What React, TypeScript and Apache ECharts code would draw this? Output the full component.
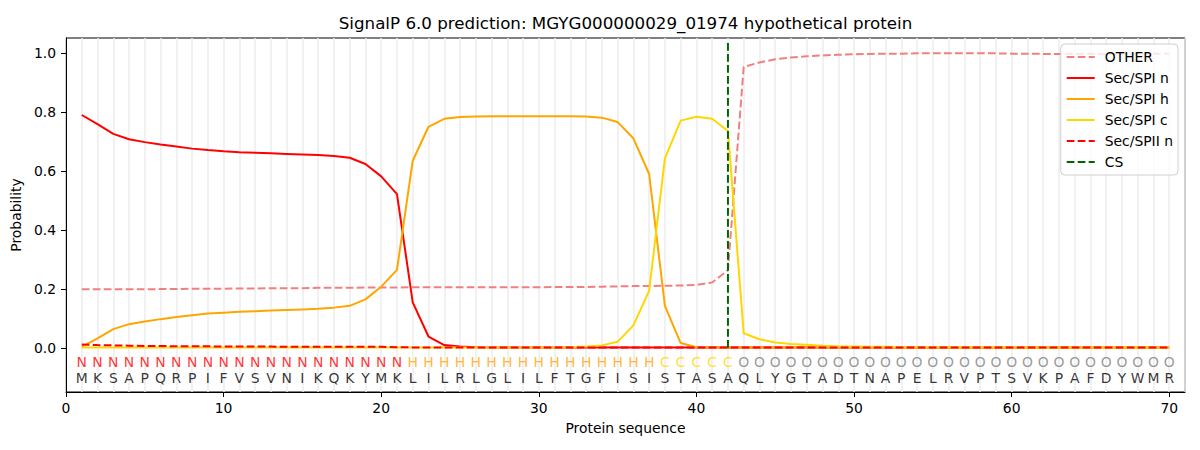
import React, { useEffect, useRef } from "react";
import * as echarts from "echarts";

const sequence = "MKSAPQRPIFVSVNIKQKYMKLILRLGLILFTGFISISTASAQLYGTADTNAPELRVPTSVKPAFDYWMR".split("");
const regionLabels = (
  "N".repeat(21) + "H".repeat(16) + "C".repeat(5) + "O".repeat(28)
).split("");

const other = [
  0.198, 0.198, 0.198, 0.198, 0.198, 0.199, 0.199, 0.2, 0.2, 0.2,
  0.201, 0.201, 0.202, 0.202, 0.202, 0.203, 0.203, 0.203, 0.204, 0.204,
  0.204, 0.205, 0.205, 0.205, 0.205, 0.205, 0.205, 0.205, 0.205, 0.205,
  0.206, 0.206, 0.206, 0.207, 0.208, 0.209, 0.209, 0.21, 0.211, 0.213,
  0.221, 0.263, 0.952, 0.967, 0.978, 0.984, 0.988, 0.991, 0.993, 0.995,
  0.996, 0.997, 0.997, 0.998, 0.998, 0.998, 0.998, 0.998, 0.998, 0.997,
  0.997, 0.996, 0.996, 0.996, 0.996, 0.996, 0.996, 0.997, 0.997, 0.997,
];
const secSpiN = [
  0.789, 0.758, 0.725, 0.707, 0.697, 0.689, 0.682, 0.675, 0.67, 0.666,
  0.663, 0.661, 0.659, 0.657, 0.655, 0.653, 0.65, 0.644, 0.623, 0.581,
  0.521, 0.154, 0.038, 0.009, 0.004, 0.002, 0.001, 0.001, 0.001, 0.001,
  0.001, 0.001, 0.001, 0.001, 0.001, 0.001, 0.001, 0.001, 0.001, 0.001,
  0.001, 0.001, 0.001, 0.001, 0.001, 0.001, 0.001, 0.001, 0.001, 0.001,
  0.001, 0.001, 0.001, 0.001, 0.001, 0.001, 0.001, 0.001, 0.001, 0.001,
  0.001, 0.001, 0.001, 0.001, 0.001, 0.001, 0.001, 0.001, 0.001, 0.001,
];
const secSpiH = [
  0.003, 0.032, 0.063, 0.08, 0.089, 0.097, 0.104, 0.11, 0.116, 0.119,
  0.122, 0.124, 0.126, 0.128, 0.13, 0.132, 0.136, 0.142, 0.164, 0.207,
  0.264, 0.634, 0.749, 0.776, 0.782, 0.784, 0.785, 0.785, 0.785, 0.785,
  0.785, 0.785, 0.784, 0.78, 0.765, 0.71, 0.589, 0.142, 0.016, 0.002,
  0.001, 0.001, 0.001, 0.001, 0.001, 0.001, 0.001, 0.001, 0.001, 0.001,
  0.001, 0.001, 0.001, 0.001, 0.001, 0.001, 0.001, 0.001, 0.001, 0.001,
  0.001, 0.001, 0.001, 0.001, 0.001, 0.001, 0.001, 0.001, 0.001, 0.001,
];
const secSpiC = [
  0.001, 0.001, 0.001, 0.001, 0.001, 0.001, 0.001, 0.001, 0.001, 0.001,
  0.001, 0.001, 0.001, 0.001, 0.001, 0.001, 0.001, 0.001, 0.001, 0.001,
  0.001, 0.001, 0.001, 0.001, 0.001, 0.001, 0.001, 0.001, 0.001, 0.001,
  0.001, 0.002, 0.004, 0.008, 0.02, 0.076, 0.193, 0.642, 0.77, 0.783,
  0.776, 0.735, 0.049, 0.029, 0.018, 0.013, 0.01, 0.007, 0.005, 0.004,
  0.003, 0.003, 0.002, 0.002, 0.002, 0.002, 0.002, 0.002, 0.002, 0.002,
  0.001, 0.001, 0.001, 0.001, 0.001, 0.001, 0.001, 0.001, 0.001, 0.001,
];
const secSpiiN = [
  0.011, 0.009, 0.008, 0.007, 0.006, 0.006, 0.005, 0.005, 0.005, 0.004,
  0.004, 0.004, 0.004, 0.003, 0.003, 0.003, 0.003, 0.003, 0.003, 0.003,
  0.002, 0.001, 0.001, 0.001, 0.001, 0.001, 0.001, 0.001, 0.001, 0.001,
  0.001, 0.001, 0.001, 0.001, 0.001, 0.001, 0.001, 0.001, 0.001, 0.001,
  0.001, 0.001, 0.001, 0.001, 0.001, 0.001, 0.001, 0.001, 0.001, 0.001,
  0.001, 0.001, 0.001, 0.001, 0.001, 0.001, 0.001, 0.001, 0.001, 0.001,
  0.001, 0.001, 0.001, 0.001, 0.001, 0.001, 0.001, 0.001, 0.001, 0.001,
];
const csPosition = 42;
const csSpan = [0, 1.04];
const xTicks = [0, 10, 20, 30, 40, 50, 60, 70];
const yTicks = [0, 0.2, 0.4, 0.6, 0.8, 1.0];
const regionRowY = -0.047;
const sequenceRowY = -0.102;

const labelColors: Record<string, string> = {
  N: "#ff0000",
  H: "#ffa500",
  C: "#ffd700",
  O: "#808080",
};

const FONT = "DejaVu Sans";
const dash = [7.7, 3.3];

export default function App() {
  const ref = useRef<HTMLDivElement>(null);
  useEffect(() => {
    if (!ref.current) return;
    const chart = echarts.init(ref.current, null, { renderer: "svg" });
    const toXY = (arr: number[]) => arr.map((v, i) => [i + 1, v]);
    const lineSeries = (name: string, data: number[], color: string, dashed: boolean) => ({
      name,
      type: "line",
      data: toXY(data),
      symbol: "none",
      xAxisIndex: 0,
      yAxisIndex: 0,
      lineStyle: { color, width: 2, type: dashed ? dash : "solid" },
      itemStyle: { color },
      z: 3,
    });
    const textSeries = (letters: string[], y: number, colorFn: (l: string) => string) => ({
      type: "scatter",
      xAxisIndex: 0,
      yAxisIndex: 0,
      symbolSize: 1,
      silent: true,
      itemStyle: { color: "rgba(0,0,0,0)" },
      z: 4,
      data: letters.map((l, i) => ({
        value: [i + 1, y],
        label: {
          show: true,
          position: "inside",
          formatter: l,
          color: colorFn(l),
          fontSize: 13.9,
          fontFamily: FONT,
        },
      })),
    });
    chart.setOption({
      animation: false,
      textStyle: { fontFamily: FONT },
      graphic: [
        {
          type: "text",
          x: 625.5,
          y: 23,
          style: {
            text: "SignalP 6.0 prediction: MGYG000000029_01974 hypothetical protein",
            font: `16.7px '${FONT}'`,
            fill: "#000",
            textAlign: "center",
            textVerticalAlign: "middle",
          },
        },
      ],
      grid: {
        left: 66,
        right: 15,
        top: 38,
        bottom: 58,
        show: true,
        borderColor: "#000",
        borderWidth: 1,
        backgroundColor: "transparent",
      },
      legend: {
        orient: "vertical",
        right: 22,
        top: 44,
        data: ["OTHER", "Sec/SPI n", "Sec/SPI h", "Sec/SPI c", "Sec/SPII n", "CS"],
        itemWidth: 28,
        itemHeight: 14,
        itemGap: 7,
        padding: [6, 5, 6, 5],
        borderColor: "#d0d0d0",
        borderWidth: 1,
        borderRadius: 4,
        backgroundColor: "rgba(255,255,255,0.8)",
        itemStyle: { opacity: 0 },
        textStyle: { fontSize: 13.9, color: "#000", fontFamily: FONT, padding: [0, 0, 0, 5] },
      },
      xAxis: [
        {
          type: "value",
          min: 0,
          max: 71,
          name: "Protein sequence",
          nameLocation: "middle",
          nameGap: 29,
          nameTextStyle: { fontSize: 13.9, color: "#000", fontFamily: FONT },
          axisLine: { show: true, onZero: false, lineStyle: { color: "#000", width: 1 } },
          axisTick: { show: true, length: 5, lineStyle: { color: "#000" }, customValues: xTicks },
          axisLabel: {
            customValues: xTicks,
            fontSize: 13.9,
            color: "#000",
            fontFamily: FONT,
            margin: 9,
          },
          splitLine: { show: false },
        },
        {
          type: "value",
          min: 0,
          max: 71,
          interval: 1,
          position: "top",
          axisLine: { show: false },
          axisTick: { show: false },
          axisLabel: { show: false },
          splitLine: { show: true, lineStyle: { color: "#ececec", width: 1.5 } },
        },
      ],
      yAxis: {
        type: "value",
        min: -0.15,
        max: 1.05,
        name: "Probability",
        nameLocation: "middle",
        nameGap: 31,
        nameTextStyle: { fontSize: 13.9, color: "#000", fontFamily: FONT },
        axisLine: { show: true, onZero: false, lineStyle: { color: "#000", width: 1 } },
        axisTick: { show: true, length: 5, lineStyle: { color: "#000" }, customValues: yTicks },
        axisLabel: {
          customValues: yTicks,
          formatter: (v: number) => v.toFixed(1),
          fontSize: 13.9,
          color: "#000",
          fontFamily: FONT,
          margin: 10,
        },
        splitLine: { show: false },
      },
      series: [
        lineSeries("OTHER", other, "#f08080", true),
        lineSeries("Sec/SPI n", secSpiN, "#ff0000", false),
        lineSeries("Sec/SPI h", secSpiH, "#ffa500", false),
        lineSeries("Sec/SPI c", secSpiC, "#ffd700", false),
        lineSeries("Sec/SPII n", secSpiiN, "#ff0000", true),
        {
          name: "CS",
          type: "line",
          symbol: "none",
          data: csSpan.map((y) => [csPosition, y]),
          lineStyle: { color: "#006400", width: 2, type: dash },
          itemStyle: { color: "#006400" },
          z: 3,
        },
        textSeries(regionLabels, regionRowY, (l) => labelColors[l]),
        textSeries(sequence, sequenceRowY, () => "#000"),
      ],
    });
    return () => chart.dispose();
  }, []);
  return (
    <div
      ref={ref}
      style={{ position: "fixed", left: 0, top: 0, width: 1200, height: 450, background: "#fff" }}
    />
  );
}
